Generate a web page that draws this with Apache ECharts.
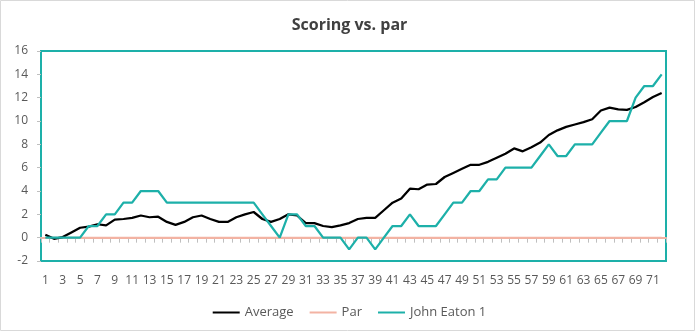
<!DOCTYPE html>
<html>
<head>
<meta charset="utf-8">
<script src="https://cdn.jsdelivr.net/npm/echarts@6/dist/echarts.min.js"></script>
<style>
html,body{margin:0;padding:0;background:#fff;}
#c{width:699px;height:333px;}
</style>
</head>
<body>
<div id="c"></div>
<script>
var holes = [];
for (var i = 1; i <= 72; i++) holes.push(String(i));

var average = [0.25,-0.1,0.05,0.45,0.85,0.95,1.15,1.05,1.55,1.6,
  1.7,1.9,1.75,1.8,1.35,1.1,1.35,1.75,1.9,1.6,
  1.35,1.35,1.75,2.0,2.2,1.6,1.35,1.6,2.0,1.9,
  1.25,1.25,1.0,0.9,1.05,1.25,1.6,1.7,1.7,2.35,
  3.0,3.35,4.2,4.15,4.55,4.6,5.2,5.55,5.9,6.25,
  6.25,6.5,6.85,7.2,7.65,7.4,7.75,8.15,8.8,9.2,
  9.5,9.7,9.9,10.15,10.9,11.15,11.0,10.95,11.2,11.6,
  12.05,12.4];

var par = [0,0,0,0,0,0,0,0,0,0,0,0,0,0,0,0,0,0,0,0,0,0,0,0,0,0,0,0,0,0,0,0,0,0,0,0,
  0,0,0,0,0,0,0,0,0,0,0,0,0,0,0,0,0,0,0,0,0,0,0,0,0,0,0,0,0,0,0,0,0,0,0,0];

var johnEaton = [0,0,0,0,0,1,1,2,2,3,
  3,4,4,4,3,3,3,3,3,3,
  3,3,3,3,3,2,1,0,2,2,
  1,1,0,0,0,-1,0,0,-1,0,
  1,1,2,1,1,1,2,3,3,4,
  4,5,5,6,6,6,6,7,8,7,
  7,8,8,8,9,10,10,10,12,13,
  13,14];

var yMin = -2, yMax = 16, yStep = 2;

var FONT = 'Open Sans';
var TEAL = '#1DB0A9';
var PAR = '#F3B3A3';

var chart = echarts.init(document.getElementById('c'), null, {renderer: 'canvas'});
var gridBox = {left: 41, right: 33, top: 51, bottom: 72};
chart.setOption({
  animation: false,
  textStyle: {fontFamily: FONT},
  title: {
    text: 'Scoring vs. par',
    left: 'center',
    top: 12,
    textStyle: {fontFamily: FONT, fontSize: 16, fontWeight: 'bold', color: '#404040'}
  },
  legend: {
    bottom: 9,
    left: 'center',
    icon: 'rect',
    itemWidth: 27,
    itemHeight: 2,
    itemGap: 16,
    textStyle: {fontFamily: FONT, fontSize: 13, color: '#595959'},
    data: ['Average', 'Par', 'John Eaton 1']
  },
  graphic: [{
    type: 'rect',
    shape: {x: 0.5, y: 0.5, width: 694, height: 330},
    style: {fill: 'none', stroke: '#d9d9d9', lineWidth: 1},
    silent: true
  }],
  grid: [
    Object.assign({show: true, borderColor: TEAL, borderWidth: 2, backgroundColor: 'transparent'}, gridBox),
    Object.assign({show: false}, gridBox)
  ],
  xAxis: [{
    type: 'category',
    gridIndex: 0,
    data: holes,
    boundaryGap: true,
    axisLine: {show: true, onZero: true, lineStyle: {color: PAR, width: 2}},
    axisTick: {show: true, interval: 0, length: 5, lineStyle: {color: '#bfbfbf', width: 1}},
    axisLabel: {show: false},
    splitLine: {show: false}
  }, {
    type: 'category',
    gridIndex: 1,
    data: holes,
    boundaryGap: true,
    position: 'bottom',
    axisLine: {show: false, onZero: false},
    axisTick: {show: false},
    axisLabel: {show: true, interval: 1, margin: 14, fontFamily: FONT, fontSize: 12, color: '#595959'},
    splitLine: {show: false}
  }],
  yAxis: [{
    type: 'value',
    gridIndex: 0,
    min: yMin, max: yMax, interval: yStep,
    axisLine: {show: false},
    axisTick: {show: true, length: 4, lineStyle: {color: '#bfbfbf'}},
    axisLabel: {margin: 13, fontFamily: FONT, fontSize: 12, color: '#595959'},
    splitLine: {show: false}
  }, {
    type: 'value',
    gridIndex: 1,
    min: yMin, max: yMax, interval: yStep,
    show: false
  }],
  series: [{
    name: 'Average',
    type: 'line',
    xAxisIndex: 0, yAxisIndex: 0,
    data: average,
    symbol: 'none',
    lineStyle: {color: '#000000', width: 2.25},
    itemStyle: {color: '#000000'},
    z: 3
  }, {
    name: 'Par',
    type: 'line',
    xAxisIndex: 0, yAxisIndex: 0,
    data: par,
    symbol: 'none',
    lineStyle: {color: PAR, width: 2},
    itemStyle: {color: PAR},
    z: 2
  }, {
    name: 'John Eaton 1',
    type: 'line',
    xAxisIndex: 0, yAxisIndex: 0,
    data: johnEaton,
    symbol: 'none',
    lineStyle: {color: TEAL, width: 2.25},
    itemStyle: {color: TEAL},
    z: 4
  }]
});
</script>
</body>
</html>
